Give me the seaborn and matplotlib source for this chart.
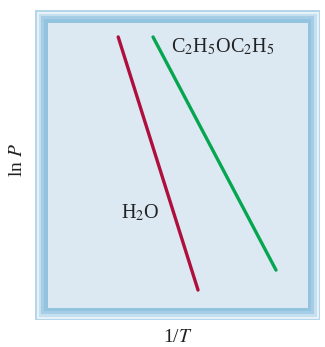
import matplotlib
matplotlib.use("Agg")
import matplotlib.pyplot as plt
from matplotlib.patches import Rectangle
import seaborn as sns
import pandas as pd

# ── dados (eixos sem escala, coordenadas normalizadas) ─────────────────────────
inv_T_h2o = [0.27, 0.577]
ln_p_h2o = [0.951, 0.063]
inv_T_ether = [0.404, 0.877]
ln_p_ether = [0.951, 0.133]
series = ["H$_2$O", "C$_2$H$_5$OC$_2$H$_5$"]
colors = ["#ae0f3c", "#06a650"]

df = pd.concat([
    pd.DataFrame({"x": inv_T_h2o, "y": ln_p_h2o, "s": series[0]}),
    pd.DataFrame({"x": inv_T_ether, "y": ln_p_ether, "s": series[1]}),
])

sns.set_theme(style="white")
plt.rcParams["font.family"] = ["Liberation Serif", "DejaVu Serif"]
plt.rcParams["mathtext.fontset"] = "stix"

W, H = 325, 347
fig = plt.figure(figsize=(W / 100, H / 100), dpi=100)


def _rect(x0, y0, x1, y1, color):
    fig.add_artist(Rectangle((x0 / W, 1 - y1 / H), (x1 - x0) / W, (y1 - y0) / H,
                             transform=fig.transFigure, facecolor=color,
                             edgecolor="none", zorder=0))


# moldura em degradê
frame = [(0, "#b4d6ea"), (1.5, "#e6f1f8"), (3.5, "#c6e0ef"), (6, "#a5cde5"), (9, "#92c3df")]
for off, c in frame:
    _rect(35 + off, 10 + off, 320 - off, 320 - off, c)

ax = fig.add_axes([48 / W, 1 - 308 / H, 260 / W, 285 / H])
ax.set_facecolor("#dce9f3")
sns.lineplot(data=df, x="x", y="y", hue="s", palette=colors, linewidth=2.4,
             legend=False, ax=ax, sort=False, estimator=None)
ax.set_xlim(0, 1)
ax.set_ylim(0, 1)
ax.set_xticks([])
ax.set_yticks([])
for sp in ax.spines.values():
    sp.set_visible(False)
ax.set_xlabel("")
ax.set_ylabel("")

ax.text((171 - 48) / 260, (308 - 47) / 285, series[1], fontsize=14.5,
        color="#222222", va="center", ha="left")
ax.text((121 - 48) / 260, (308 - 213) / 285, series[0], fontsize=14.5,
        color="#222222", va="center", ha="left")

fig.text(17 / W, 1 - 160 / H, "ln $P$", rotation=90, fontsize=14,
         ha="center", va="center", color="#222222")
fig.text(178 / W, 1 - 338 / H, "1/$T$", fontsize=14,
         ha="center", va="center", color="#222222")

fig.savefig("out.png", dpi=100)
